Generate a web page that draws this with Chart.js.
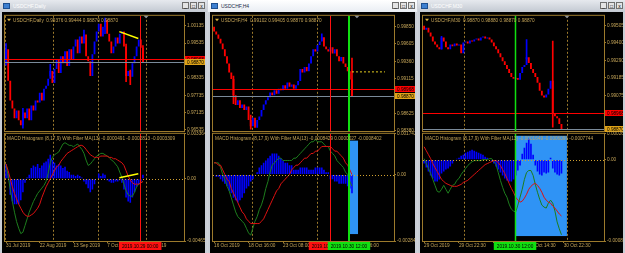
<!DOCTYPE html>
<html>
<head>
<meta charset="utf-8">
<script src="https://cdn.jsdelivr.net/npm/chart.js@4/dist/chart.umd.min.js"></script>
<style>
  body { margin: 0; width: 625px; height: 253px; overflow: hidden; background: #cfd3da; position: relative; font-family: 'Liberation Sans', Arial, sans-serif; }
  .win { position: absolute; top: 0; height: 253px; background: #c9ced6; }
  .tb { position: absolute; left: 0; right: 0; top: 0; height: 12px; background: linear-gradient(#e6e9ee, #c3c9d2); color: #fff; font-size: 5px; line-height: 12px; }
  .tb.on { background: linear-gradient(#ffffff, #e9edf3); color: #1b2b48; }
  .tb span { position: absolute; left: 13px; top: 0; }
  .ico { position: absolute; left: 3px; top: 3px; width: 7px; height: 6px; background: #3d7fd0; border: 1px solid #1d4f90; box-sizing: border-box; }
  .bt { position: absolute; right: 2px; top: 2px; display: flex; gap: 1px; }
  .bt i { display: block; width: 7px; height: 7px; background: #e4e4e4; border: 1px solid #707070; box-sizing: border-box; font-style: normal; font-size: 5px; line-height: 6px; text-align: center; color: #000; }
  .blk { position: absolute; top: 12px; bottom: 0; background: #000; }
  canvas { position: absolute; }
</style>
</head>
<body>
<div class="win" style="left:0;width:207px"><div class="tb"><b class="ico"></b><span>USDCHF,Daily</span><div class="bt"><i>_</i><i>□</i><i>x</i></div></div><div class="blk" style="left:2px;width:203px"></div></div>
<div class="win" style="left:208px;width:209px"><div class="tb on"><b class="ico"></b><span>USDCHF,H4</span><div class="bt"><i>_</i><i>□</i><i>x</i></div></div><div class="blk" style="left:2px;width:205px"></div></div>
<div class="win" style="left:418px;width:207px"><div class="tb"><b class="ico"></b><span>USDCHF,M30</span><div class="bt"><i>_</i><i>□</i><i>x</i></div></div><div class="blk" style="left:2px;width:203px"></div></div>

<script>
// ---------- Daily ----------
const w1Open = 0.9884;
const w1Close = [0.9932, 0.9823, 0.9755, 0.9728, 0.9694, 0.9721, 0.9687, 0.9670, 0.9714, 0.9694,
  0.9728, 0.9687, 0.9738, 0.9721, 0.9755, 0.9748, 0.9782, 0.9755, 0.9796, 0.9806,
  0.9830, 0.9857, 0.9816, 0.9864, 0.9898, 0.9850, 0.9908, 0.9884, 0.9925, 0.9874,
  0.9932, 0.9898, 0.9942, 0.9966, 0.9918, 0.9976, 0.9952, 0.9983, 0.9908, 0.9891,
  0.9840, 0.9915, 0.9959, 0.9993, 1.0020, 0.9976, 1.0010, 1.0034, 0.9986, 0.9959,
  0.9918, 0.9942, 0.9973, 0.9952, 0.9986, 0.9993, 0.9942, 0.9840, 0.9857, 0.9837,
  0.9884, 0.9908, 0.9942, 0.9966, 0.99376, 0.98870];
const w1Wicks = [[0, 0.9877, 0.9952], [8, 0.9660, 0.9728], [21, 0.9840, 0.9880], [37, 0.9966, 0.9998],
  [47, 0.9986, 1.0040], [57, 0.9820, 0.9950], [59, 0.9810, 0.9860], [65, 0.98870, 0.99444]];
// MACD values in 1e-4 units
const w1Hist = [11, 4, -12, -17, -19, -19, -19, -16, -10, -3, 1, 3, 8, 10, 9, 11, 8, 10, 12, 13,
  15, 18, 14, 12, 10, 11, 10, 8, 9, 6, 5, 3, 3, 2, 3, 2, 1, -2, -4, -7,
  -10, -8, -4, 0, 4, 2, 4, 3, -1, -2, -3, -3, -2, -2, -1, -3, -8, -14, -17, -18,
  -14, -10, -6, -4, -2, 3];
const w1Macd = [11, 2, -8, -17, -25, -32, -37, -41, -40, -35, -30, -25, -21, -17, -14, -11, -9, -7, -5, -2,
  4, 12, 16, 18, 19, 20, 23, 26, 27, 26, 25, 25, 24, 25, 26, 24, 22, 19, 14, 10,
  11, 13, 15, 17, 18, 19, 19, 18, 17, 16, 14, 13, 11, 9, 5, 1, -4, -9, -12, -13,
  -13, -10, -6, -4, -3, -2];
const w1Signal = [11, 6, 0, -6, -11, -15, -19, -22, -25, -27, -28, -28, -27, -26, -24, -22, -19, -14, -10, -6,
  -3, 0, 3, 6, 9, 10, 13, 15, 17, 19, 20, 21, 22, 23, 24, 25, 25, 24, 22, 20,
  18, 17, 16, 16, 16, 17, 17, 17, 17, 16, 16, 15, 15, 14, 13, 12, 10, 6, 2, -1,
  -3, -4, -4, -4, -3, -2];
const w1PriceTicks = [1.00135, 0.99535, 0.98335, 0.97735, 0.97135, 0.96535];
const w1MacdTicks = [0.003364, 0, -0.004653];
const w1MacdTickText = ['0.003364', '0.00', '-0.004653'];
const w1TimeIdx = [0, 16, 32, 48, 64];
const w1TimeText = ['31 Jul 2019', '22 Aug 2019', '13 Sep 2019', '7 Oct 2019', '29 Oct 2019'];
const w1Seps = [-0.5, 22.5, 43.5, 66.5];
const w1PriceTrend = [53.8, 0.9993, 62.8, 0.9969];
const w1MacdTrend = [53.8, 0.00007, 62.8, 0.00037];

// ---------- H4 ----------
const w2Open = 0.9985;
const w2Close = [0.9978, 0.9974, 0.9968, 0.9961, 0.9953, 0.9943, 0.9933, 0.9920, 0.9911, 0.9888,
  0.9874, 0.9881, 0.9870, 0.9875, 0.9867, 0.9872, 0.9853, 0.9844, 0.9856, 0.9842,
  0.9853, 0.9858, 0.9867, 0.9875, 0.9881, 0.9885, 0.9892, 0.9888, 0.9895, 0.9890,
  0.9897, 0.9895, 0.9902, 0.9897, 0.9906, 0.9900, 0.9903, 0.9897, 0.9902, 0.9908,
  0.9925, 0.9920, 0.9928, 0.9922, 0.9933, 0.9943, 0.9953, 0.9950, 0.9959, 0.9964,
  0.9970, 0.9957, 0.9953, 0.9950, 0.9956, 0.9947, 0.9953, 0.9943, 0.9936, 0.9942,
  0.9933, 0.9928, 0.9922, 0.99102, 0.98870];
const w2Wicks = [[9, 0.9876, 0.9915], [17, 0.9840, 0.9860], [50, 0.9965, 0.9975], [64, 0.98870, 0.99405]];
const w2Hist = [0, -1, -1, -2, -3, -4, -5, -7, -8, -10, -11, -12, -11, -10, -8, -6, -5, -3, -2, 0,
  1, 3, 4, 5, 6, 7, 8, 9, 9, 9, 8, 7, 6, 5, 5, 4, 4, 2, 2, 2,
  3, 3, 3, 3, 2, 2, 2, 3, 3, 3, 3, 2, 1, 1, -2, -2, -3, -3, -4, -4,
  -4, -4, -5, -6, -8];
const w2Macd = [5, 5, 5, 3, 0, -2, -5, -7, -10, -13, -16, -18, -19, -20, -21, -23, -25, -26, -23, -20,
  -18, -15, -13, -10, -6, -3, 1, 4, 5, 6, 7, 7, 6, 6, 6, 6, 6, 7, 7, 8,
  9, 10, 11, 12, 13, 14, 14, 15, 14, 14, 14, 13, 12, 12, 10, 9, 8, 6, 5, 4,
  3, 1, 0, -3, -5];
const w2Signal = [5, 5, 4, 4, 2, 0, -2, -3, -6, -8, -10, -12, -14, -16, -17, -19, -20, -21, -21, -21,
  -21, -21, -20, -19, -17, -15, -13, -11, -9, -7, -6, -4, -3, -2, -1, 0, 2, 3, 4, 4,
  5, 6, 7, 7, 8, 9, 9, 10, 10, 11, 12, 12, 12, 12, 12, 11, 10, 10, 9, 8,
  7, 5, 4, 2, 0];
const w2PriceTicks = [0.99850, 0.99605, 0.99360, 0.99115, 0.98625, 0.98380];
const w2MacdTicks = [0.001742, 0, -0.002847];
const w2MacdTickText = ['0.001742', '0.00', '-0.002847'];
const w2TimeIdx = [0, 16, 32, 48, 64];
const w2TimeText = ['16 Oct 2019', '18 Oct 16:00', '23 Oct 08:00', '28 Oct 00:00', '30 Oct 16:00'];
const w2Seps = [17.6, 47.8];
const w2PriceDots = [64, 0.9921, 79.3, 0.9921];

// ---------- M30 ----------
const w3Open = 0.99505;
const w3Close = [0.99481, 0.99493, 0.99463, 0.99438, 0.99408, 0.99390, 0.99372, 0.99360, 0.99432, 0.99408,
  0.99372, 0.99360, 0.99390, 0.99378, 0.99396, 0.99384, 0.99390, 0.99335, 0.99402, 0.99408,
  0.99396, 0.99414, 0.99408, 0.99420, 0.99426, 0.99414, 0.99432, 0.99438, 0.99426, 0.99432,
  0.99420, 0.99402, 0.99378, 0.99360, 0.99335, 0.99311, 0.99287, 0.99263, 0.99239, 0.99214,
  0.99190, 0.99178, 0.99184, 0.99172, 0.99214, 0.99251, 0.99263, 0.99311, 0.99275, 0.99239,
  0.99214, 0.99190, 0.99154, 0.99105, 0.99075, 0.99063, 0.99081, 0.99117, 0.99166, 0.98966,
  0.98948, 0.98936, 0.98900, 0.98870];
const w3Wicks = [[8, 0.9936, 0.9944], [47, 0.9930, 0.9942], [59, 0.98880, 0.99410]];
// MACD values in 1e-5 units
const w3Hist = [-4, -8, -12, -16, -19, -22, -22, -20, -14, -12, -10, -9, -7, -4, -1, 1, 2, 4, 5, 7,
  8, 9, 10, 9, 8, 7, 6, 5, 3, 2, 0, -2, -4, -7, -10, -13, -16, -19, -21, -22,
  -22, -20, -16, -11, -6, 6, 12, 17, 21, 16, 5, -6, -12, -15, -16, -13, -14, -13, 2, -9,
  -13, -15, -16, -14];
const w3Macd = [1, -4, -9, -14, -20, -26, -32, -33, -30, -26, -30, -34, -30, -26, -25, -21, -19, -15, -12, -9,
  -6, -4, -2, -1, -1, -1, -1, 0, 0, 0, 1, 1, -2, -5, -13, -21, -28, -34, -38, -45,
  -50, -52, -53, -46, -38, -30, -20, -13, -11, -11, -16, -25, -33, -40, -46, -48, -49, -44, -41, -44,
  -52, -63, -70, -76];
const w3Signal = [13, 9, 5, 1, -4, -8, -12, -16, -20, -22, -24, -25, -26, -27, -27, -27, -26, -25, -23, -22,
  -21, -19, -17, -15, -13, -11, -9, -7, -5, -4, -3, -2, -1, -1, -3, -6, -10, -14, -19, -24,
  -29, -33, -38, -41, -43, -42, -39, -35, -30, -27, -25, -24, -26, -29, -33, -38, -41, -43, -44, -47,
  -49, -52, -55, -57];
const w3PriceTicks = [0.99505, 0.99400, 0.99290, 0.99185, 0.99075];
const w3MacdTicks = [0.000261, 0, -0.000823];
const w3MacdTickText = ['0.000261', '0.00', '-0.000823'];
const w3TimeIdx = [0, 16, 32, 48, 64];
const w3TimeText = ['29 Oct 2019', '29 Oct 22:30', '30 Oct 06:30', '30 Oct 14:30', '30 Oct 22:30'];
const w3Seps = [18.3, 65.5];

// shared price lines
const bidLine = 0.98968;
const askLine = 0.98870;

// ---------- styling ----------
const FRAME = '#9c7a2c';
const TEXT = '#c4a458';
const FONT = '"Liberation Sans", Arial, sans-serif';
const UP = '#0000ff', DOWN = '#ff0000';
const BOX = '#2f93f5';

function px(ctx, font) { ctx.font = font + 'px ' + FONT; }
function seg(ctx, x0, y0, x1, y1) { ctx.beginPath(); ctx.moveTo(x0, y0); ctx.lineTo(x1, y1); ctx.stroke(); }

const mt4 = {
  id: 'mt4',
  beforeDatasetsDraw(chart, args, o) {
    const { ctx, chartArea: a, scales: { x, y } } = chart;
    ctx.save();
    ctx.beginPath(); ctx.rect(a.left, a.top, a.width, a.height); ctx.clip();
    (o.boxes || []).forEach(b => {
      const x0 = x.getPixelForValue(b[0]), x1 = x.getPixelForValue(b[1]);
      const y0 = y.getPixelForValue(b[2]), y1 = y.getPixelForValue(b[3]);
      ctx.fillStyle = BOX; ctx.fillRect(x0, y0, x1 - x0, y1 - y0);
    });
    ctx.strokeStyle = FRAME; ctx.lineWidth = 1; ctx.setLineDash([2, 2]);
    (o.seps || []).forEach(v => { const p = Math.round(x.getPixelForValue(v)) + 0.5; seg(ctx, p, a.top, p, a.bottom); });
    ctx.restore();
  },
  afterDatasetsDraw(chart, args, o) {
    const { ctx, chartArea: a, scales: { x, y } } = chart;
    ctx.save();
    ctx.beginPath(); ctx.rect(a.left, a.top, a.width, a.height); ctx.clip();
    ctx.lineWidth = 1;
    if (o.zero) {
      ctx.strokeStyle = '#d0a030'; ctx.setLineDash([1, 2]);
      const p = Math.round(y.getPixelForValue(0)) + 0.5; seg(ctx, a.left, p, a.right, p);
      ctx.setLineDash([]);
    }
    (o.hlines || []).forEach(h => {
      ctx.strokeStyle = h[1]; const p = Math.round(y.getPixelForValue(h[0])) + 0.5; seg(ctx, a.left, p, a.right, p);
    });
    (o.trends || []).forEach(t => {
      ctx.strokeStyle = t[4]; ctx.lineWidth = t[5] || 1; ctx.setLineDash(t[6] || []);
      seg(ctx, x.getPixelForValue(t[0]), y.getPixelForValue(t[1]), x.getPixelForValue(t[2]), y.getPixelForValue(t[3]));
    });
    ctx.setLineDash([]);
    (o.vlines || []).forEach(v => {
      ctx.strokeStyle = v[1]; ctx.lineWidth = v[2];
      const p = Math.round(x.getPixelForValue(v[0])) + (v[2] % 2 ? 0.5 : 0); seg(ctx, p, a.top, p, a.bottom);
    });
    ctx.restore();
    ctx.save();
    ctx.strokeStyle = FRAME; ctx.lineWidth = 1;
    ctx.strokeRect(a.left - 0.5, a.top - 0.5, a.width + 1, a.height + 1);
    if (o.shift != null) {
      const p = x.getPixelForValue(o.shift);
      ctx.fillStyle = '#8d929a';
      ctx.beginPath(); ctx.moveTo(p - 2.5, a.top); ctx.lineTo(p + 2.5, a.top); ctx.lineTo(p, a.top + 2.5); ctx.fill();
    }
    ctx.fillStyle = TEXT; ctx.textBaseline = 'middle'; px(ctx, 4.7);
    if (o.icon) {
      ctx.fillStyle = '#d8b040';
      ctx.beginPath(); ctx.moveTo(a.left + 2, a.top + 3); ctx.lineTo(a.left + 6, a.top + 3); ctx.lineTo(a.left + 4, a.top + 5.5); ctx.fill();
      ctx.fillStyle = TEXT;
      ctx.fillText(o.title, a.left + 8, a.top + 5);
    } else if (o.title) {
      ctx.fillText(o.title, a.left + 2, a.top + 5);
    }
    ctx.restore();
  },
  afterDraw(chart, args, o) {
    const { ctx, chartArea: a, scales: { x, y } } = chart;
    ctx.save();
    px(ctx, 4.7); ctx.textBaseline = 'middle';
    (o.tags || []).forEach(t => {
      const p = Math.round(y.getPixelForValue(t[0]));
      ctx.fillStyle = t[2]; ctx.fillRect(a.right + 1, p - 3, chart.width - a.right - 1, 6);
      ctx.fillStyle = '#000'; ctx.fillText(t[1], a.right + 3, p + 0.5);
    });
    (o.timeTags || []).forEach(t => {
      const p = x.getPixelForValue(t[0]);
      const w = ctx.measureText(t[1]).width + 6;
      ctx.fillStyle = t[2]; ctx.fillRect(p - w / 2, a.bottom + 1, w, 8);
      ctx.fillStyle = '#000'; ctx.textAlign = 'center'; ctx.fillText(t[1], p, a.bottom + 5.5);
    });
    ctx.restore();
  }
};
Chart.register(mt4);

function addCanvas(left, top, w, h) {
  const c = document.createElement('canvas');
  c.width = w; c.height = h;
  c.style.left = left + 'px'; c.style.top = top + 'px';
  document.body.appendChild(c);
  return c;
}

function candleSets(open0, closes, wicks) {
  const bodies = [], colors = [];
  let prev = open0;
  closes.forEach(c => { bodies.push([prev, c]); colors.push(c >= prev ? UP : DOWN); prev = c; });
  const wick = closes.map(() => null);
  const wickCol = closes.map(() => DOWN);
  wicks.forEach(([i, lo, hi]) => { wick[i] = [lo, hi]; wickCol[i] = colors[i]; });
  return [
    { data: wick, backgroundColor: wickCol, barThickness: 1, grouped: false, order: 2 },
    { data: bodies, backgroundColor: colors, barPercentage: 0.85, categoryPercentage: 1, minBarLength: 1, grouped: false, order: 1 }
  ];
}

function yAxis(L, min, max, ticks, fmt) {
  return {
    position: 'right', min, max,
    afterBuildTicks: s => { s.ticks = ticks.map(v => ({ value: v })); },
    afterFit: s => { s.width = L.blackR - L.plotR; },
    ticks: { color: TEXT, font: { family: FONT, size: 4.7 }, padding: 1, autoSkip: false, callback: fmt },
    grid: { drawOnChartArea: false, tickLength: 2, color: FRAME },
    border: { display: false }
  };
}

const base = { responsive: false, animation: false, events: [], devicePixelRatio: 1 };
const off = { legend: { display: false }, tooltip: { enabled: false } };

function buildWindow(L, d) {
  const labels = Array.from({ length: d.slots }, (_, i) => i);
  const w = L.blackR - L.blackL;
  const pc = addCanvas(L.blackL, 12, w, 123);
  new Chart(pc, {
    type: 'bar',
    data: { labels, datasets: candleSets(d.open, d.close, d.wicks) },
    options: {
      ...base,
      layout: { padding: { left: L.plotL - L.blackL, right: 0, top: 2, bottom: 4 } },
      scales: {
        x: { display: false, offset: true },
        y: yAxis(L, d.pMin, d.pMax, d.pTicks, v => v.toFixed(5))
      },
      plugins: { ...off, mt4: {
        title: d.title, icon: true, seps: d.seps, shift: d.shift,
        hlines: [[bidLine, '#ff0000'], [askLine, '#7a8a9a']],
        vlines: d.vlines, trends: d.pTrends,
        tags: [[bidLine, '0.98968', '#ff0000'], [askLine, '0.98870', '#e0a418']]
      } }
    }
  });

  const mc = addCanvas(L.blackL, 130, w, 123);
  const u = d.unit;
  new Chart(mc, {
    type: 'bar',
    data: {
      labels,
      datasets: [
        { data: d.hist.map(v => v * u), backgroundColor: UP, barPercentage: 0.75, categoryPercentage: 1, order: 3 },
        { type: 'line', data: d.macd.map(v => v * u), borderColor: '#1d7d1d', borderWidth: 1, pointRadius: 0, order: 2 },
        { type: 'line', data: d.signal.map(v => v * u), borderColor: '#dd1111', borderWidth: 1, pointRadius: 0, order: 1 }
      ]
    },
    options: {
      ...base,
      layout: { padding: { left: L.plotL - L.blackL, right: 0, top: 3, bottom: 0 } },
      scales: {
        x: {
          offset: true,
          afterBuildTicks: s => { s.ticks = d.tIdx.map(v => ({ value: v })); },
          afterFit: s => { s.height = 12; },
          ticks: { color: TEXT, font: { family: FONT, size: 4.7 }, padding: 0, autoSkip: false, maxRotation: 0, align: 'start',
            callback: v => { const k = d.tIdx.indexOf(v); return k >= 0 ? d.tText[k] : ''; } },
          grid: { drawOnChartArea: false, offset: false, tickLength: 2, color: FRAME },
          border: { display: false }
        },
        y: yAxis(L, d.mTicks[2], d.mTicks[0], d.mTicks, (v, i) => d.mText[i])
      },
      plugins: { ...off, mt4: {
        title: d.mTitle, zero: true, seps: d.seps, boxes: d.boxes,
        vlines: d.vlines, trends: d.mTrends, timeTags: d.timeTags
      } }
    }
  });
}

const layout = [
  { blackL: 2, blackR: 205, plotL: 5, plotR: 184 },
  { blackL: 210, blackR: 415, plotL: 213, plotR: 394 },
  { blackL: 420, blackR: 623, plotL: 423, plotR: 604 }
];

buildWindow(layout[0], {
  slots: 85, open: w1Open, close: w1Close, wicks: w1Wicks,
  pMin: 0.96500, pMax: 1.00475, pTicks: w1PriceTicks,
  title: 'USDCHF,Daily  0.99376 0.99444 0.98870 0.98870',
  seps: w1Seps, shift: 66.5,
  vlines: [[63.7, '#ff1010', 1]],
  pTrends: [[...w1PriceTrend, '#ffff00', 1.5]],
  unit: 1e-4, hist: w1Hist, macd: w1Macd, signal: w1Signal,
  mTicks: w1MacdTicks, mText: w1MacdTickText,
  mTitle: 'MACD Histogram (8,17,9) With Filter MA(13) -0.0000491 -0.0002813 -0.0003309',
  mTrends: [[...w1MacdTrend, '#ffff00', 1.5]],
  tIdx: w1TimeIdx, tText: w1TimeText,
  timeTags: [[63.7, '2019.10.29 00:00', '#ff1010']]
});

buildWindow(layout[1], {
  slots: 84, open: w2Open, close: w2Close, wicks: w2Wicks,
  pMin: 0.98374, pMax: 1.00003, pTicks: w2PriceTicks,
  title: 'USDCHF,H4  0.99102 0.99405 0.98870 0.98870',
  seps: w2Seps, shift: 66.3,
  vlines: [[53.8, '#ff1010', 1], [62.6, '#10e010', 2]],
  pTrends: [[...w2PriceDots, '#e8d020', 1, [2, 2]]],
  unit: 1e-4, hist: w2Hist, macd: w2Macd, signal: w2Signal,
  mTicks: w2MacdTicks, mText: w2MacdTickText,
  mTitle: 'MACD Histogram (8,17,9) With Filter MA(13) -0.0008429 0.0000027 -0.0008402',
  boxes: [[62.6, 66.8, 0.00145, -0.00255]],
  mTrends: [],
  tIdx: w2TimeIdx, tText: w2TimeText,
  timeTags: [[53.8, '2019.10.29 00:00', '#ff1010'], [62.6, '2019.10.30 12:00', '#10e010']]
});

buildWindow(layout[2], {
  slots: 83, open: w3Open, close: w3Close, wicks: w3Wicks,
  pMin: 0.98857, pMax: 0.99566, pTicks: w3PriceTicks,
  title: 'USDCHF,M30  0.98870 0.98880 0.98870 0.98870',
  seps: w3Seps, shift: 65.5,
  vlines: [[41.7, '#10e010', 1.5]],
  pTrends: [],
  unit: 1e-5, hist: w3Hist, macd: w3Macd, signal: w3Signal,
  mTicks: w3MacdTicks, mText: w3MacdTickText,
  mTitle: 'MACD Histogram (8,17,9) With Filter MA(13) -0.0001649 -0.0006096 -0.0007744',
  boxes: [[41.7, 65.5, 0.000241, -0.000773]],
  mTrends: [],
  tIdx: w3TimeIdx, tText: w3TimeText,
  timeTags: [[41.7, '2019.10.30 12:00', '#10e010']]
});
</script>
</body>
</html>
